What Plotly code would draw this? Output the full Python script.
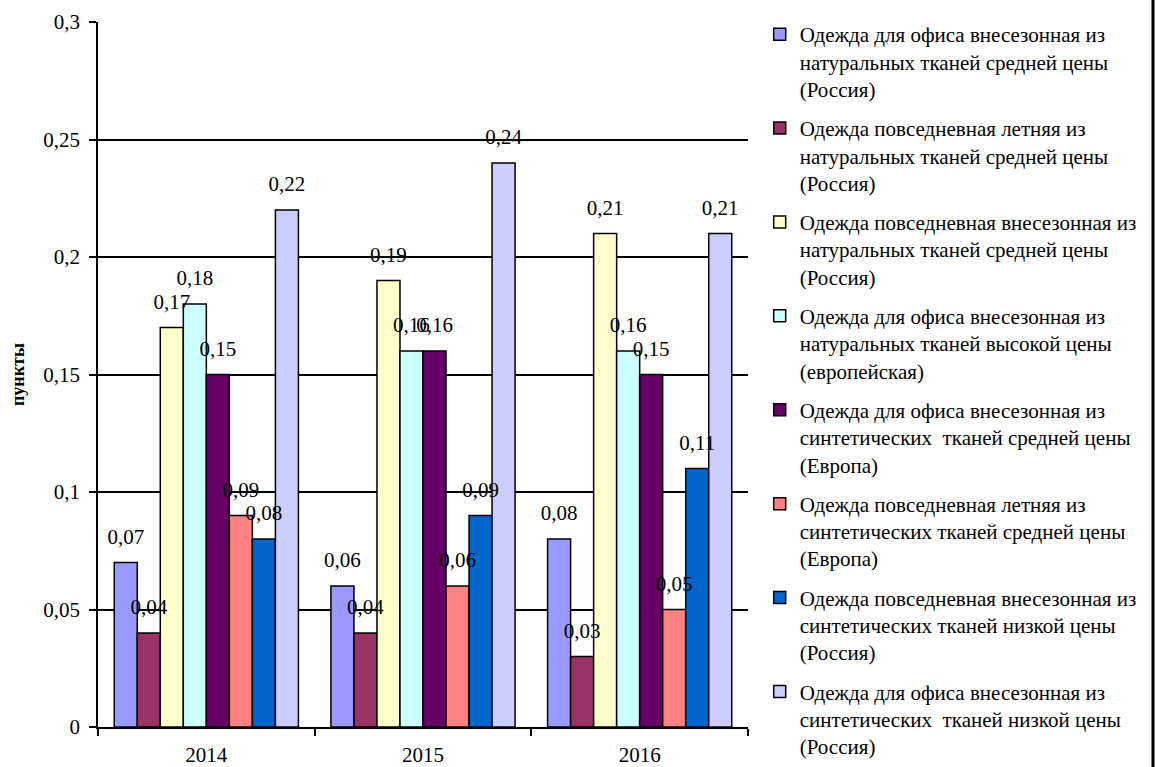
import plotly.graph_objects as go

years = ["2014", "2015", "2016"]

series_names = [
    "Одежда для офиса внесезонная из<br>натуральных тканей средней цены<br>(Россия)",
    "Одежда повседневная летняя из<br>натуральных тканей средней цены<br>(Россия)",
    "Одежда повседневная внесезонная из<br>натуральных тканей средней цены<br>(Россия)",
    "Одежда для офиса внесезонная из<br>натуральных тканей высокой цены<br>(европейская)",
    "Одежда для офиса внесезонная из<br>синтетических  тканей средней цены<br>(Европа)",
    "Одежда повседневная летняя из<br>синтетических тканей средней цены<br>(Европа)",
    "Одежда повседневная внесезонная из<br>синтетических тканей низкой цены<br>(Россия)",
    "Одежда для офиса внесезонная из<br>синтетических  тканей низкой цены<br>(Россия)",
]

office_nat_mid_ru = [0.07, 0.06, 0.08]
casual_summer_nat_mid_ru = [0.04, 0.04, 0.03]
casual_allseason_nat_mid_ru = [0.17, 0.19, 0.21]
office_nat_high_eu = [0.18, 0.16, 0.16]
office_syn_mid_eu = [0.15, 0.16, 0.15]
casual_summer_syn_mid_eu = [0.09, 0.06, 0.05]
casual_allseason_syn_low_ru = [0.08, 0.09, 0.11]
office_syn_low_ru = [0.22, 0.24, 0.21]

series_values = [
    office_nat_mid_ru,
    casual_summer_nat_mid_ru,
    casual_allseason_nat_mid_ru,
    office_nat_high_eu,
    office_syn_mid_eu,
    casual_summer_syn_mid_eu,
    casual_allseason_syn_low_ru,
    office_syn_low_ru,
]

colors = ["#9999FF", "#993366", "#FFFFCC", "#CCFFFF",
          "#660066", "#FF8080", "#0066CC", "#CCCCFF"]

FONT = "Liberation Serif, Times New Roman, serif"

fig = go.Figure()
for i, (name, vals, col) in enumerate(zip(series_names, series_values, colors)):
    fig.add_trace(go.Bar(
        x=years, y=vals, name=name, legendgroup=f"g{i}",
        marker=dict(color=col, line=dict(color="black", width=1.5)),
    ))

# value labels drawn on top of all bars, aligned with the grouped bars
for i, vals in enumerate(series_values):
    fig.add_trace(go.Scatter(
        x=years, y=vals, mode="markers+text", showlegend=False,
        legendgroup=f"g{i}", hoverinfo="skip",
        marker=dict(size=20, opacity=0),
        text=[f"{v:.2f}".replace(".", ",") for v in vals],
        textposition="top center",
        textfont=dict(family=FONT, size=21, color="black"),
        cliponaxis=False,
    ))

fig.update_layout(
    width=1155, height=767,
    margin=dict(l=98, r=407, t=22, b=40),
    paper_bgcolor="white", plot_bgcolor="white",
    barmode="group", bargap=0.15, bargroupgap=0,
    scattermode="group", scattergap=0.15,
    separators=", ",
    font=dict(family=FONT, size=20, color="black"),
    showlegend=True,
    legend=dict(
        x=1.018, y=1.0085, xanchor="left", yanchor="top",
        font=dict(family=FONT, size=21, color="black"),
        bgcolor="rgba(0,0,0,0)",
        tracegroupgap=9,
        itemwidth=30,
        valign="top",
        maxheight=767,
    ),
    xaxis=dict(
        type="category", automargin=False,
        showline=True, linecolor="black", linewidth=1.5,
        ticks="outside", tickson="boundaries", ticklen=7,
        tickcolor="black", tickwidth=1.5,
        showgrid=False,
        tickfont=dict(family=FONT, size=21),
        ticklabelstandoff=8,
    ),
    yaxis=dict(
        range=[0, 0.3], dtick=0.05, automargin=False,
        showline=True, linecolor="black", linewidth=1.5,
        ticks="outside", ticklen=7, tickcolor="black", tickwidth=1.5,
        showgrid=True, gridcolor="black", gridwidth=1.5,
        zeroline=False,
        tickfont=dict(family=FONT, size=21),
        ticklabelstandoff=5,
        title=dict(text="<b>пункты</b>", font=dict(family=FONT, size=18),
                   standoff=14),
    ),
    shapes=[dict(type="line", xref="paper", yref="paper",
                 x0=(1153 - 98) / 650, x1=(1153 - 98) / 650,
                 y0=-40 / 705, y1=1 + 22 / 705,
                 line=dict(color="black", width=3))],
)

fig.write_html("out.html")
